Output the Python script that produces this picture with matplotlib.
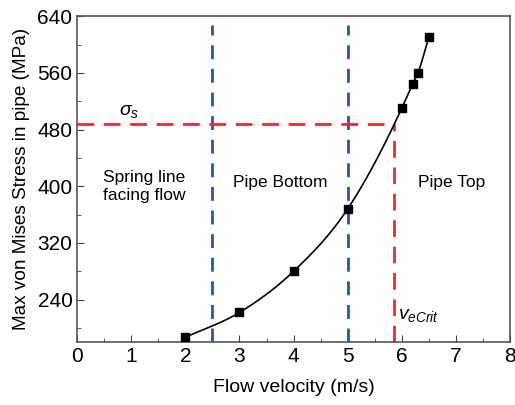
import numpy as np
import matplotlib.pyplot as plt
from matplotlib.ticker import MultipleLocator

plt.rcParams['font.family'] = ['Liberation Sans', 'DejaVu Sans']
plt.rcParams['mathtext.fontset'] = 'custom'
plt.rcParams['mathtext.it'] = 'Liberation Sans:italic'
plt.rcParams['mathtext.rm'] = 'Liberation Sans'

velocity = [2, 3, 4, 5, 6, 6.2, 6.3, 6.5]
stress = [187, 222, 280, 368, 510, 544, 560, 610]
region_bounds = [2.5, 5.0]
sigma_s = 488
v_crit = 5.85


def smooth(x, y, n=30):
    # cubic hermite curve through the points
    x = np.asarray(x, float)
    y = np.asarray(y, float)
    m = np.gradient(y, x)
    xs, ys = [], []
    for i in range(len(x) - 1):
        h = x[i + 1] - x[i]
        t = np.linspace(0, 1, n)
        h00 = 2 * t**3 - 3 * t**2 + 1
        h10 = t**3 - 2 * t**2 + t
        h01 = -2 * t**3 + 3 * t**2
        h11 = t**3 - t**2
        xs.append(x[i] + t * h)
        ys.append(h00 * y[i] + h10 * h * m[i] + h01 * y[i + 1] + h11 * h * m[i + 1])
    return np.concatenate(xs), np.concatenate(ys)


fig, ax = plt.subplots(figsize=(5.15, 4.05), dpi=100)
fig.subplots_adjust(left=0.15, right=0.99, top=0.96, bottom=0.155)

sx, sy = smooth(velocity, stress)
ax.plot(sx, sy, color='black', lw=1.2, zorder=3)
ax.plot(velocity, stress, 's', color='black', ms=5.5, zorder=4)

for b in region_bounds:
    ax.plot([b, b], [180, 628], color='#2456b0', lw=2, ls=(0, (5, 3.5)), zorder=2)

ax.plot([0, v_crit], [sigma_s, sigma_s], color='#ee2a2a', lw=2, ls=(0, (6, 3.5)), zorder=2)
ax.plot([v_crit, v_crit], [180, sigma_s], color='#ee2a2a', lw=2, ls=(0, (6, 3.5)), zorder=2)

ax.text(0.78, 505, r'$\sigma_s$', fontsize=14, ha='left', va='center')
ax.text(0.47, 400, 'Spring line\nfacing flow', fontsize=12.5, ha='left', va='center', linespacing=1.25)
ax.text(3.75, 405, 'Pipe Bottom', fontsize=12.5, ha='center', va='center')
ax.text(6.93, 405, 'Pipe Top', fontsize=12.5, ha='center', va='center')
ax.text(5.93, 218, r'$v_{eCrit}$', fontsize=14, ha='left', va='center')

ax.set_xlim(0, 8)
ax.set_ylim(180, 640)
ax.xaxis.set_major_locator(MultipleLocator(1))
ax.xaxis.set_minor_locator(MultipleLocator(0.5))
ax.yaxis.set_major_locator(MultipleLocator(80))
ax.yaxis.set_minor_locator(MultipleLocator(40))
ax.tick_params(which='both', direction='in', labelsize=15, color='#444444')
ax.tick_params(which='major', length=5)
ax.tick_params(which='minor', length=3)
for s in ax.spines.values():
    s.set_color('#555555')
    s.set_linewidth(1.2)

ax.set_xlabel('Flow velocity (m/s)', fontsize=14, labelpad=9)
ax.set_ylabel('Max von Mises Stress in pipe (MPa)', fontsize=13.7, labelpad=5)

fig.savefig('out.png', dpi=100)
